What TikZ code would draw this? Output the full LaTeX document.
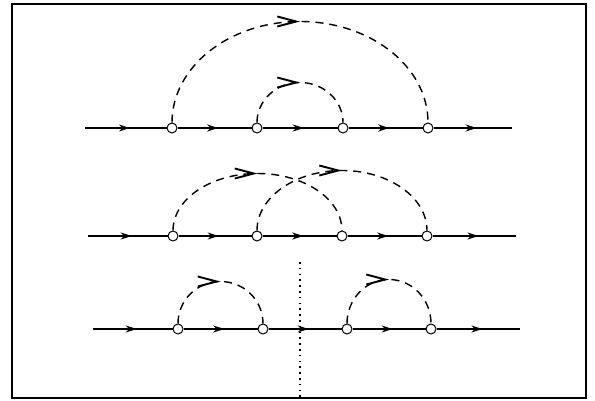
\documentclass[tikz,border=0pt]{standalone}
\usetikzlibrary{arrows.meta, decorations.markings}

\begin{document}
\begin{tikzpicture}[x=1pt, y=1pt, line width=1.2pt,
    vtx/.style={circle, draw, fill=white, inner sep=0pt, minimum size=10pt, line width=1pt},
    seg/.style={postaction={decorate}, decoration={markings,
        mark=at position 0.55 with {\arrow{Stealth[length=11pt, width=7pt, inset=3.5pt]}}}},
    loopline/.style={dash pattern=on 8pt off 6pt, line width=1.4pt, postaction={decorate},
        decoration={markings,
        mark=at position 0.5 with {\arrow[solid]{Straight Barb[length=19pt, width=10pt, line width=1.9pt]}}}},
    cutline/.style={line width=1.6pt, dash pattern=on 1.6pt off 4.2pt}]
  \useasboundingbox (0,0) rectangle (595,400);
  \draw[line width=2pt] (12,2) rectangle (586,396);

  % first row: nested exchange
  \coordinate (in1) at (85,272);
  \node[vtx] (v11) at (172,272) {};
  \node[vtx] (v12) at (257,272) {};
  \node[vtx] (v13) at (343,272) {};
  \node[vtx] (v14) at (428,272) {};
  \coordinate (out1) at (512,272);

  % second row: crossed exchange
  \coordinate (in2) at (88,164);
  \node[vtx] (v21) at (173,164) {};
  \node[vtx] (v22) at (257,164) {};
  \node[vtx] (v23) at (342,164) {};
  \node[vtx] (v24) at (427,164) {};
  \coordinate (out2) at (516,164);

  % third row: two separate loops, cut in between
  \coordinate (in3) at (93,71);
  \node[vtx] (v31) at (178,71) {};
  \node[vtx] (v32) at (263,71) {};
  \node[vtx] (v33) at (347,71) {};
  \node[vtx] (v34) at (431,71) {};
  \coordinate (out3) at (520,71);

  \foreach \a/\b in {in1/v11, v11/v12, v12/v13, v13/v14, v14/out1,
                     in2/v21, v21/v22, v22/v23, v23/v24, v24/out2,
                     in3/v31, v31/v32, v32/v33, v33/v34, v34/out3}
    \draw[seg] (\a) -- (\b);

  % dashed loops, from one vertex over to the other
  \draw[loopline] (v11.north) arc[start angle=180, end angle=0, x radius=128, y radius=101];
  \draw[loopline] (v12.north) arc[start angle=180, end angle=0, x radius=43, y radius=40];
  \draw[loopline] (v21.north) arc[start angle=180, end angle=0, x radius=84.5, y radius=57];
  \draw[loopline] (v22.north) arc[start angle=180, end angle=0, x radius=85, y radius=60];
  \draw[loopline] (v31.north) arc[start angle=180, end angle=0, x radius=42.5, y radius=42];
  \draw[loopline] (v33.north) arc[start angle=180, end angle=0, x radius=42, y radius=44];

  \coordinate (cuttop) at (300,138);
  \coordinate (cutbot) at (300,3);
  \draw[cutline] (cuttop) -- (cutbot);
\end{tikzpicture}
\end{document}
